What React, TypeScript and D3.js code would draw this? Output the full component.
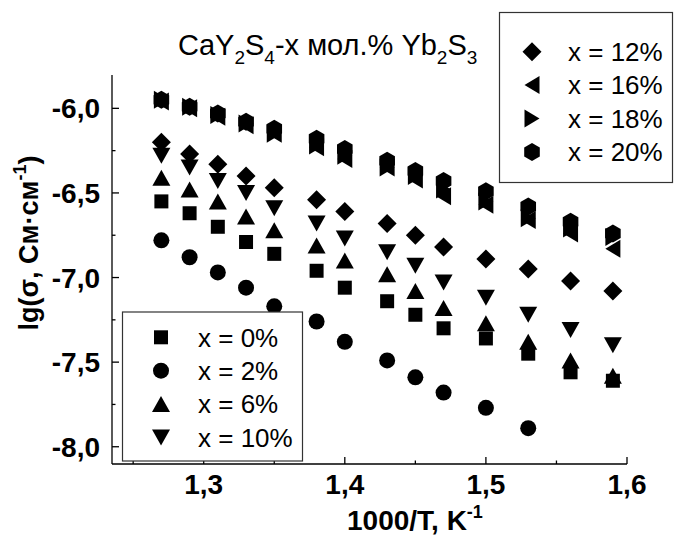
import React from "react";
import * as d3 from "d3";

// ---------- data ----------
const xValues = [1.27, 1.29, 1.31, 1.33, 1.35, 1.38, 1.4, 1.43, 1.45, 1.47, 1.5, 1.53, 1.56, 1.59];

const s0 = [-6.55, -6.62, -6.7, -6.79, -6.86, -6.96, -7.06, -7.14, -7.22, -7.3, -7.36, -7.45, -7.56, -7.61];
const s2 = [-6.78, -6.88, -6.97, -7.06, -7.17, -7.26, -7.38, -7.49, -7.59, -7.68, -7.77, -7.89];
const s6 = [-6.41, -6.48, -6.55, -6.64, -6.72, -6.81, -6.9, -6.98, -7.08, -7.18, -7.27, -7.38, -7.49, -7.58];
const s10 = [-6.28, -6.35, -6.43, -6.5, -6.59, -6.68, -6.77, -6.85, -6.93, -7.03, -7.12, -7.22, -7.31, -7.4];
const s12 = [-6.2, -6.27, -6.33, -6.4, -6.47, -6.54, -6.61, -6.68, -6.75, -6.82, -6.89, -6.95, -7.02, -7.08];
const s16 = [-5.96, -6.0, -6.05, -6.1, -6.15, -6.23, -6.3, -6.35, -6.42, -6.52, -6.57, -6.66, -6.74, -6.83];
const s18 = [-5.95, -5.99, -6.04, -6.09, -6.15, -6.22, -6.28, -6.35, -6.4, -6.48, -6.55, -6.65, -6.71, -6.76];
const s20 = [-5.95, -5.99, -6.03, -6.08, -6.12, -6.18, -6.24, -6.31, -6.37, -6.43, -6.49, -6.58, -6.67, -6.74];

const seriesLabels = ["x = 0%", "x = 2%", "x = 6%", "x = 10%", "x = 12%", "x = 16%", "x = 18%", "x = 20%"];
const xTicks = [1.3, 1.4, 1.5, 1.6];
const xTickLabels = ["1,3", "1,4", "1,5", "1,6"];
const xMinor = [1.25, 1.35, 1.45, 1.55];
const yTicks = [-8, -7.5, -7, -6.5, -6];
const yTickLabels = ["-8,0", "-7,5", "-7,0", "-6,5", "-6,0"];
const yMinor = [-7.75, -7.25, -6.75, -6.25];

// ---------- symbols ----------
type Pt = [number, number];
const poly = (pts: Pt[]) => ({
  draw(ctx: any, size: number) {
    const k = Math.sqrt(size) / 16;
    pts.forEach(([a, b], i) => (i === 0 ? ctx.moveTo(a * k, b * k) : ctx.lineTo(a * k, b * k)));
    ctx.closePath();
  },
});
const symSquare = poly([[-7, -7], [7, -7], [7, 7], [-7, 7]]);
const symCircle = {
  draw(ctx: any, size: number) {
    const r = (8 * Math.sqrt(size)) / 16;
    ctx.moveTo(r, 0);
    ctx.arc(0, 0, r, 0, 2 * Math.PI);
  },
};
const symUp = poly([[0, -8], [9, 8], [-9, 8]]);
const symDown = poly([[0, 8], [9, -8], [-9, -8]]);
const symDiamond = poly([[0, -9.5], [9.5, 0], [0, 9.5], [-9.5, 0]]);
const symLeft = poly([[-7.5, 0], [7.5, -9], [7.5, 9]]);
const symRight = poly([[7.5, 0], [-7.5, -9], [-7.5, 9]]);
const symHex = poly([[0, -9], [7.8, -4.5], [7.8, 4.5], [0, 9], [-7.8, 4.5], [-7.8, -4.5]]);

const seriesValues = [s0, s2, s6, s10, s12, s16, s18, s20];
const seriesSymbols = [symSquare, symCircle, symUp, symDown, symDiamond, symLeft, symRight, symHex];

const FONT = "'Liberation Sans', Arial, Helvetica, sans-serif";

export default function App() {
  const W = 674;
  const H = 538;
  const x = d3.scaleLinear().domain([1.235, 1.6]).range([112, 627]);
  const y = d3.scaleLinear().domain([-8.102, -5.803]).range([464, 75]);
  const gen = (t: any) => d3.symbol().type(t).size(256)() as string;

  const [x0, x1] = x.range();
  const [yb, yt] = y.range();

  return (
    <svg width={W} height={H} style={{ position: "absolute", left: 0, top: 0, background: "#fff" }} fontFamily={FONT}>
      <rect x={0} y={0} width={W} height={H} fill="#fff" />
      {/* title */}
      <text x={178} y={55} fontSize={29} fill="#000">
        <tspan>CaY</tspan>
        <tspan fontSize={19} dy={9}>2</tspan>
        <tspan dy={-9}>S</tspan>
        <tspan fontSize={19} dy={9}>4</tspan>
        <tspan dy={-9}>-x мол.% Yb</tspan>
        <tspan fontSize={19} dy={9}>2</tspan>
        <tspan dy={-9}>S</tspan>
        <tspan fontSize={19} dy={9}>3</tspan>
      </text>

      {/* data */}
      {seriesValues.map((vals, si) => (
        <g key={si}>
          {vals.map((v, i) => (
            <path key={i} d={gen(seriesSymbols[si])} transform={`translate(${x(xValues[i])},${y(v)})`} fill="#000" />
          ))}
        </g>
      ))}

      {/* axes */}
      <line x1={x0} x2={x1} y1={yb} y2={yb} stroke="#000" strokeWidth={1.3} />
      <line x1={x0} x2={x0} y1={yb} y2={yt} stroke="#000" strokeWidth={1.3} />
      {xTicks.map((t, i) => (
        <g key={"xt" + i}>
          <line x1={x(t)} x2={x(t)} y1={yb} y2={yb - 7} stroke="#000" strokeWidth={1.3} />
          <text x={x(t)} y={494} textAnchor="middle" fontSize={28} fontWeight="bold">
            {xTickLabels[i]}
          </text>
        </g>
      ))}
      {xMinor.map((t, i) => (
        <line key={"xm" + i} x1={x(t)} x2={x(t)} y1={yb} y2={yb - 3.5} stroke="#000" strokeWidth={1.3} />
      ))}
      {yTicks.map((t, i) => (
        <g key={"yt" + i}>
          <line x1={x0} x2={x0 + 7} y1={y(t)} y2={y(t)} stroke="#000" strokeWidth={1.3} />
          <text x={100} y={y(t)} dy="0.36em" textAnchor="end" fontSize={28} fontWeight="bold">
            {yTickLabels[i]}
          </text>
        </g>
      ))}
      {yMinor.map((t, i) => (
        <line key={"ym" + i} x1={x0} x2={x0 + 3.5} y1={y(t)} y2={y(t)} stroke="#000" strokeWidth={1.3} />
      ))}

      {/* axis titles */}
      <text x={347} y={530} fontSize={28} fontWeight="bold">
        <tspan>1000/T, K</tspan>
        <tspan fontSize={18} dy={-12}>-1</tspan>
      </text>
      <text transform="translate(38,243) rotate(-90)" textAnchor="middle" fontSize={27} fontWeight="bold">
        <tspan>lg(σ, См·см</tspan>
        <tspan fontSize={18} dy={-12}>-1</tspan>
        <tspan dy={12}>)</tspan>
      </text>

      {/* lower legend */}
      <rect x={122.5} y={312} width={180} height={149} fill="#fff" stroke="#333" strokeWidth={1.2} />
      {[0, 1, 2, 3].map((si, r) => (
        <g key={"l1" + si}>
          <path d={gen(seriesSymbols[si])} transform={`translate(161,${337.3 + r * 33.4})`} fill="#000" />
          <text x={198} y={337.3 + r * 33.4} dy="0.36em" fontSize={26}>
            {seriesLabels[si]}
          </text>
        </g>
      ))}

      {/* upper legend */}
      <rect x={499.5} y={12.5} width={173} height={170} fill="#fff" stroke="#333" strokeWidth={1.2} />
      {[4, 5, 6, 7].map((si, r) => (
        <g key={"l2" + si}>
          <path d={gen(seriesSymbols[si])} transform={`translate(532,${51.7 + r * 33.4})`} fill="#000" />
          <text x={568} y={51.7 + r * 33.4} dy="0.36em" fontSize={26}>
            {seriesLabels[si]}
          </text>
        </g>
      ))}
    </svg>
  );
}
